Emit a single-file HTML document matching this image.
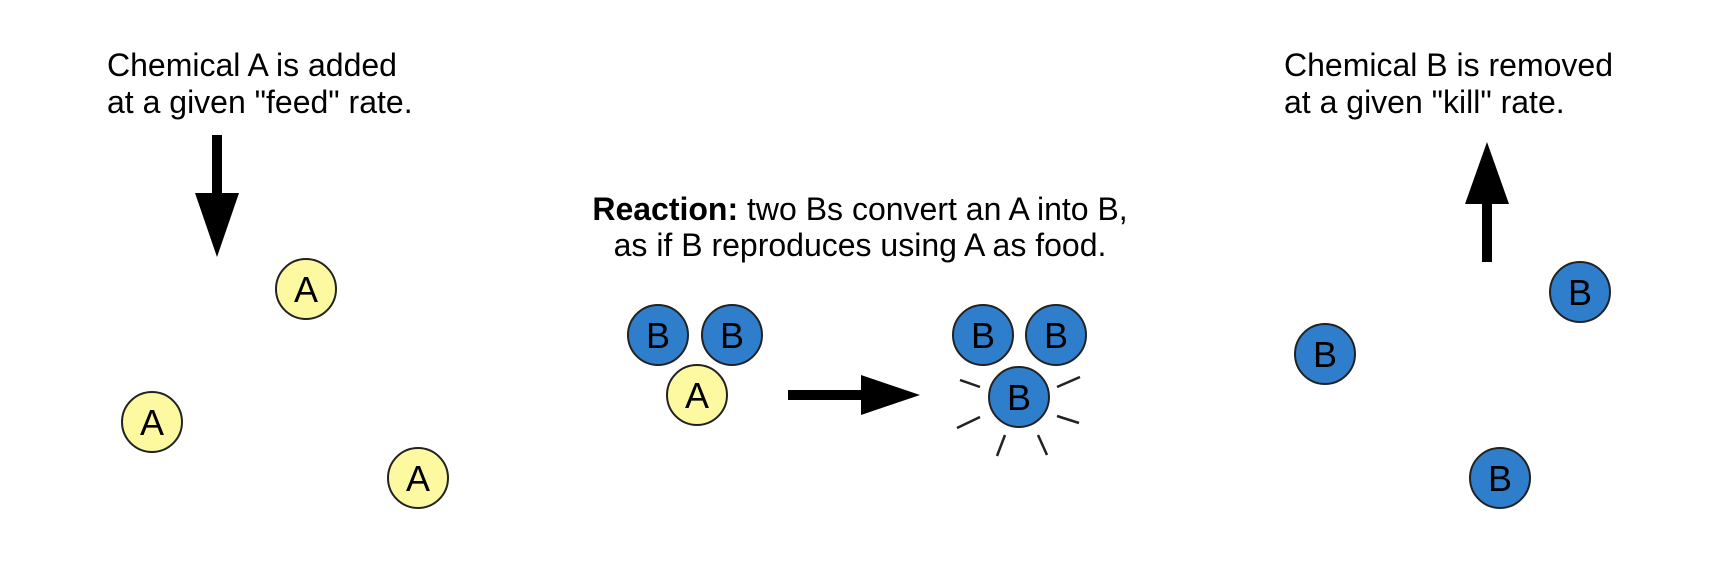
<!DOCTYPE html>
<html><head><meta charset="utf-8"><style>
html,body{margin:0;padding:0;background:#fff;width:1736px;height:568px;overflow:hidden}
svg text{font-family:"Liberation Sans",Arial,sans-serif;fill:#000}
</style></head><body>
<svg width="1736" height="568" viewBox="0 0 1736 568">
<defs>
<g id="ca"><circle r="30" fill="#fdf9a0" stroke="#222" stroke-width="2"/><text y="13" text-anchor="middle" font-size="36">A</text></g>
<g id="cb"><circle r="30" fill="#2f7ecb" stroke="#222" stroke-width="2"/><text y="13" text-anchor="middle" font-size="36">B</text></g>
</defs>
<g font-size="32">
<text x="107" y="76">Chemical A is added</text>
<text x="107" y="113">at a given "feed" rate.</text>
</g>
<g>
<rect x="212" y="135" width="10" height="60" fill="#000"/>
<polygon points="195,193 239,193 217,257" fill="#000"/>
</g>
<use href="#ca" x="306" y="289"/>
<use href="#ca" x="152" y="422"/>
<use href="#ca" x="418" y="478"/>
<g font-size="32" text-anchor="middle">
<text x="860" y="220"><tspan font-weight="bold">Reaction:</tspan> two Bs convert an A into B,</text>
<text x="860" y="256">as if B reproduces using A as food.</text>
</g>
<use href="#cb" x="658" y="335"/>
<use href="#cb" x="732" y="335"/>
<use href="#ca" x="697" y="395"/>
<g>
<rect x="788" y="390" width="75" height="10" fill="#000"/>
<polygon points="861,375 861,415 920,395" fill="#000"/>
</g>
<use href="#cb" x="983" y="335"/>
<use href="#cb" x="1056" y="335"/>
<use href="#cb" x="1019" y="397"/>
<g stroke="#222" stroke-width="2.5">
<line x1="960" y1="380" x2="980" y2="387"/>
<line x1="1057" y1="387" x2="1080" y2="377"/>
<line x1="957" y1="428" x2="980" y2="417"/>
<line x1="1057" y1="416" x2="1079" y2="423"/>
<line x1="997" y1="456" x2="1005" y2="435"/>
<line x1="1038" y1="435" x2="1047" y2="455"/>
</g>
<g font-size="32">
<text x="1284" y="76">Chemical B is removed</text>
<text x="1284" y="113">at a given "kill" rate.</text>
</g>
<g>
<rect x="1482" y="200" width="10" height="62" fill="#000"/>
<polygon points="1465,204 1509,204 1487,142" fill="#000"/>
</g>
<use href="#cb" x="1580" y="292"/>
<use href="#cb" x="1325" y="354"/>
<use href="#cb" x="1500" y="478"/>
</svg>
</body></html>
